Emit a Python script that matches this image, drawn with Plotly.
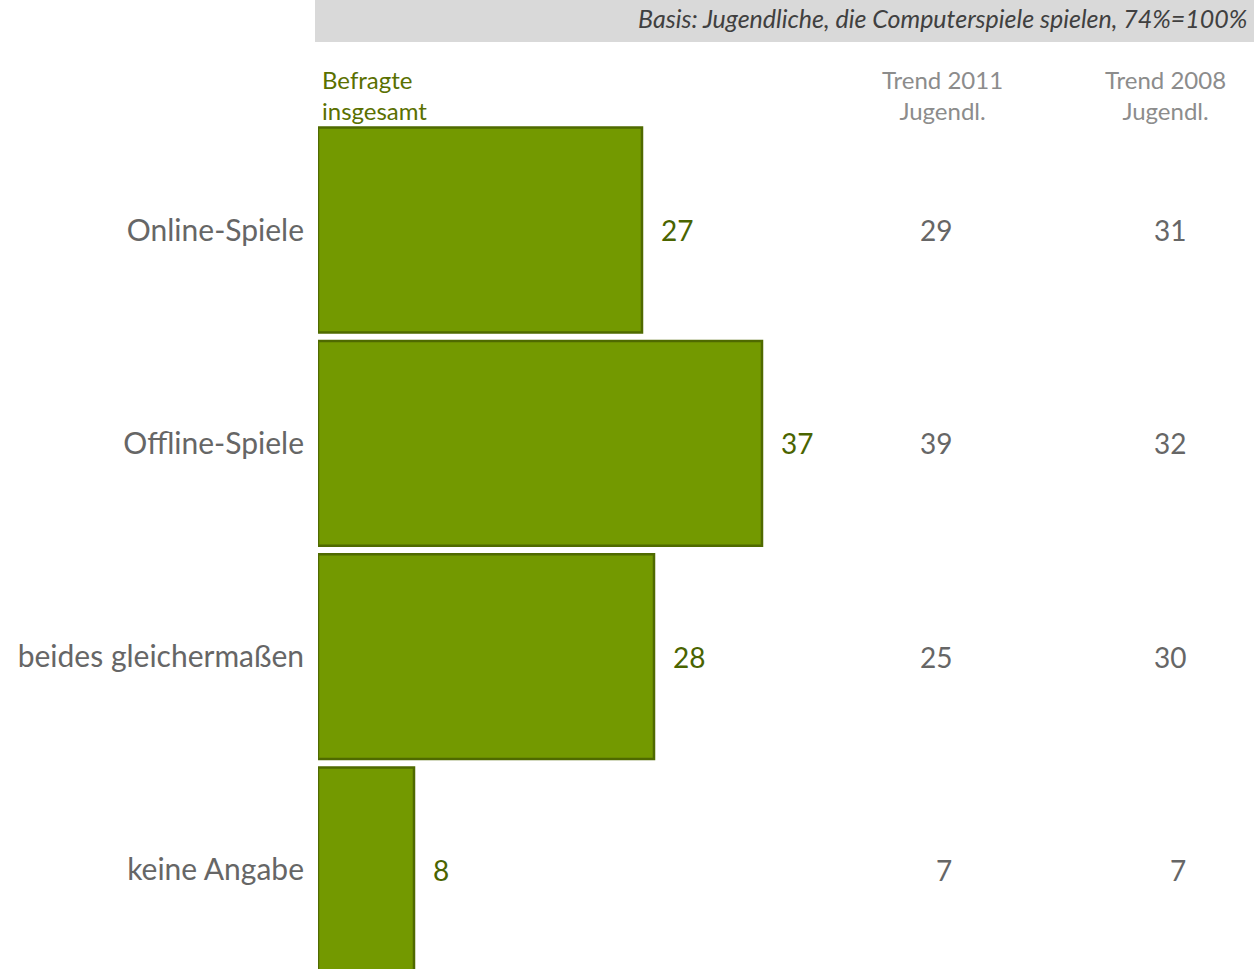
import plotly.graph_objects as go

categories = ["Online-Spiele", "Offline-Spiele", "beides gleichermaßen", "keine Angabe"]
befragte = [27, 37, 28, 8]
trend_2011 = [29, 39, 25, 7]
trend_2008 = [31, 32, 30, 7]
col_headers = ["Befragte<br>insgesamt", "Trend 2011<br>Jugendl.", "Trend 2008<br>Jugendl."]
basis_text = "Basis: Jugendliche, die Computerspiele spielen, 74%=100%"

FONT = "Lato"
BAR_FILL = "#739900"
BAR_LINE = "#4F6A00"
VAL_COL = "#4A6400"
GRAY = "#666666"
HEAD_GRAY = "#8C8C8C"

W, H = 1254, 969
L = 318
pos = list(range(len(categories)))

fig = go.Figure()
fig.add_trace(go.Bar(
    x=befragte, y=pos, orientation="h",
    marker=dict(color=BAR_FILL, line=dict(color=BAR_LINE, width=2.5)),
    width=0.96, hoverinfo="skip",
))

ann = []
for i, v in enumerate(befragte):
    ann.append(dict(x=v, y=i, xref="x", yref="y", text=str(v), showarrow=False,
                    xanchor="left", xshift=17, font=dict(family=FONT, size=28, color=VAL_COL)))
for i, v in enumerate(trend_2011):
    ann.append(dict(x=(954 - L) / (W - L), y=i, xref="paper", yref="y", text=str(v), showarrow=False,
                    xanchor="right", font=dict(family=FONT, size=28, color=GRAY)))
for i, v in enumerate(trend_2008):
    ann.append(dict(x=(1188 - L) / (W - L), y=i, xref="paper", yref="y", text=str(v), showarrow=False,
                    xanchor="right", font=dict(family=FONT, size=28, color=GRAY)))

# column headers
ann.append(dict(x=(320 - L) / (W - L), y=1 - 63 / H, xref="paper", yref="paper", text=col_headers[0],
                showarrow=False, xanchor="left", yanchor="top", align="left",
                font=dict(family=FONT, size=24, color="#5A7000")))
ann.append(dict(x=(942 - L) / (W - L), y=1 - 63 / H, xref="paper", yref="paper", text=col_headers[1],
                showarrow=False, xanchor="center", yanchor="top", align="center",
                font=dict(family=FONT, size=24, color=HEAD_GRAY)))
ann.append(dict(x=(1165 - L) / (W - L), y=1 - 63 / H, xref="paper", yref="paper", text=col_headers[2],
                showarrow=False, xanchor="center", yanchor="top", align="center",
                font=dict(family=FONT, size=24, color=HEAD_GRAY)))
# basis text
ann.append(dict(x=(1249 - L) / (W - L), y=1 - 18 / H, xref="paper", yref="paper", text="<i>" + basis_text + "</i>",
                showarrow=False, xanchor="right", yanchor="middle",
                font=dict(family=FONT, size=25, color="#404040")))

pitch = 213.33
y_top = -230 / pitch
y_bot = y_top + H / pitch

fig.update_layout(
    width=W, height=H,
    margin=dict(l=L, r=0, t=0, b=0),
    paper_bgcolor="white", plot_bgcolor="white",
    showlegend=False,
    bargap=0.04,
    xaxis=dict(range=[0, (W - L) / 12], visible=False, fixedrange=True),
    yaxis=dict(range=[y_bot, y_top], tickvals=pos, ticktext=categories, showgrid=False,
               zeroline=False, showline=False, ticks="", ticklabelstandoff=13,
               tickfont=dict(family=FONT, size=30, color=GRAY)),
    annotations=ann,
    shapes=[dict(type="rect", xref="paper", yref="paper", x0=(315 - L) / (W - L), x1=1,
                 y0=1 - 42 / H, y1=1, fillcolor="#D9D9D9", line=dict(width=0), layer="below")],
)

fig.write_html("out.html")
